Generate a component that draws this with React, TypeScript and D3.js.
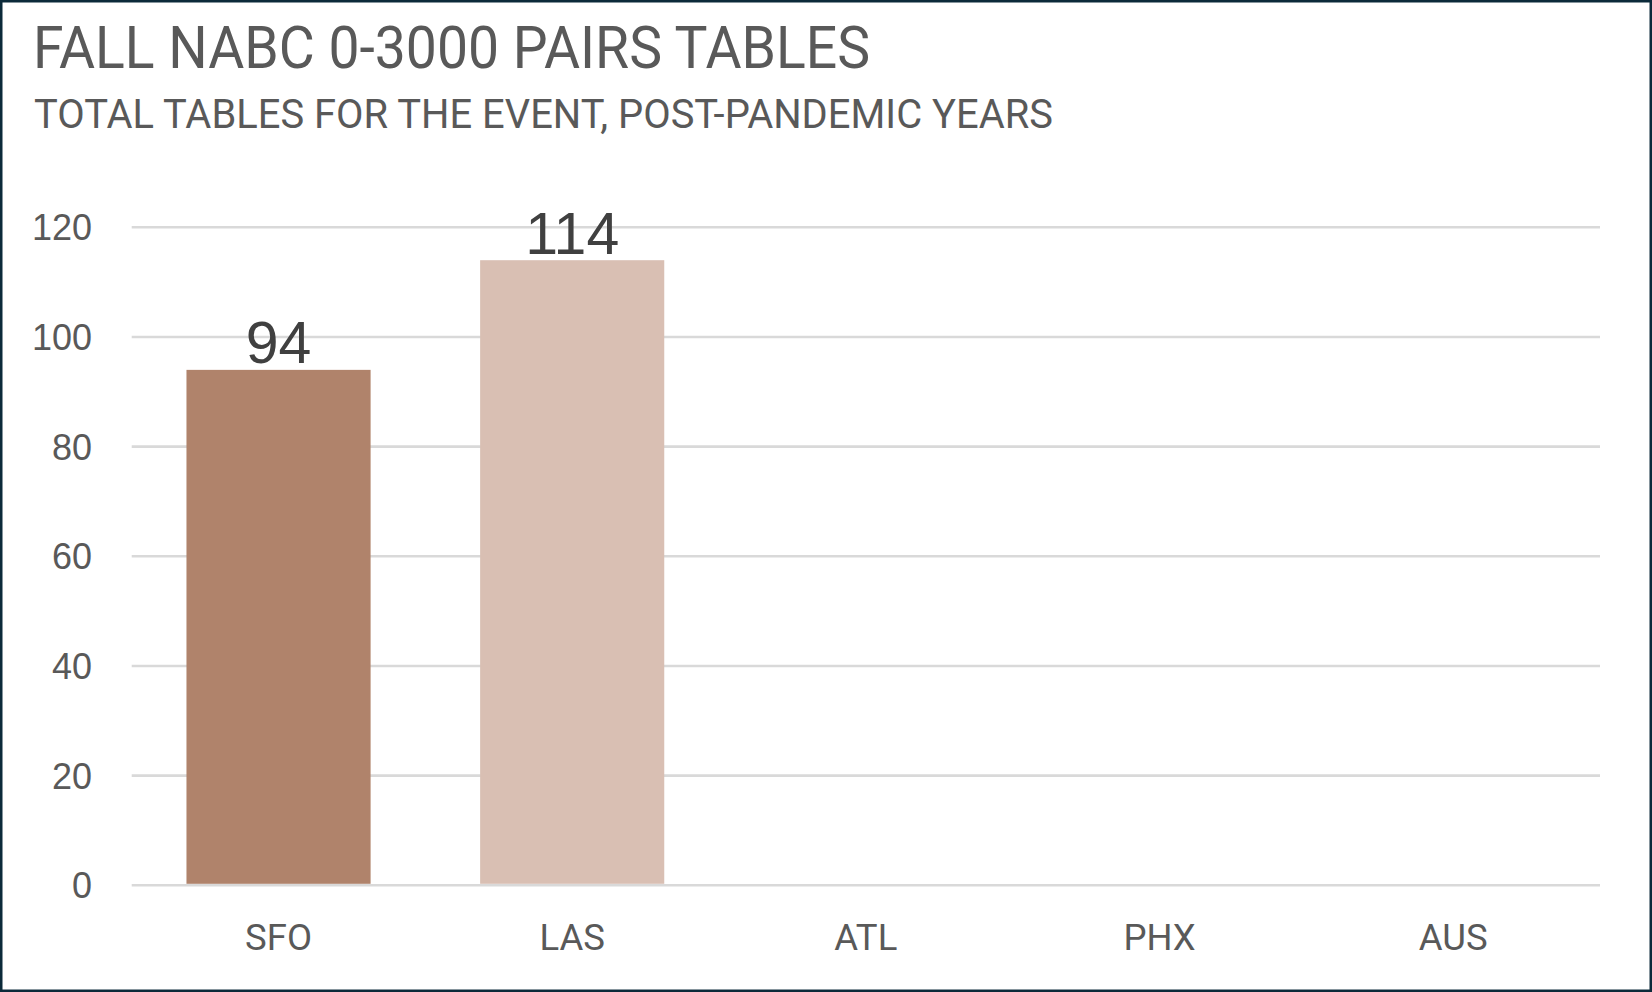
import React from 'react';
import * as d3 from 'd3';

const categories = ['SFO', 'LAS', 'ATL', 'PHX', 'AUS'];
const tables: (number | null)[] = [94, 114, null, null, null];
const barColors = ['#B0836B', '#D9BFB3'];
const yTicks = [0, 20, 40, 60, 80, 100, 120];

const title = 'FALL NABC 0-3000 PAIRS TABLES';
const subtitle = 'TOTAL TABLES FOR THE EVENT, POST-PANDEMIC YEARS';

const W = 1652;
const H = 992;
const margin = { top: 227.3, right: 52, bottom: 106.7, left: 131.7 };
const font = 'Roboto, "Liberation Sans", sans-serif';
const numFont = '"Liberation Sans", Arial, sans-serif';

export default function App() {
  const x = d3.scaleBand<string>()
    .domain(categories)
    .range([margin.left, W - margin.right])
    .paddingInner(0.373)
    .paddingOuter(0.1865);

  const y = d3.scaleLinear()
    .domain([0, 120])
    .range([H - margin.bottom, margin.top]);

  return (
    <div style={{ position: 'fixed', left: 0, top: 0 }}>
      <svg width={W} height={H} style={{ display: 'block', background: '#fff' }}>
        {/* frame */}
        <rect x={1.25} y={1.25} width={W - 2.5} height={H - 2.5}
          fill="#fff" stroke="#0C2A3A" strokeWidth={2.5} />

        {/* titles */}
        <text x={33} y={68.3} fontFamily={font} fontSize={59.5} fill="#595959"
          textLength={837} lengthAdjust="spacingAndGlyphs">{title}</text>
        <text x={34} y={128.3} fontFamily={font} fontSize={40.8} fill="#595959"
          textLength={1019} lengthAdjust="spacingAndGlyphs">{subtitle}</text>

        {/* gridlines + y labels */}
        {yTicks.map(t => (
          <g key={t}>
            <line x1={margin.left} x2={W - margin.right} y1={y(t)} y2={y(t)}
              stroke="#D9D9D9" strokeWidth={2.6} />
            <text x={92} y={y(t)} dy="0.36em" textAnchor="end"
              fontFamily={numFont} fontSize={36} fill="#595959">{t}</text>
          </g>
        ))}

        {/* bars */}
        {categories.map((c, i) => {
          const v = tables[i];
          if (v == null) return null;
          const bx = x(c) as number;
          return (
            <g key={c}>
              <rect x={bx} y={y(v)} width={x.bandwidth()} height={y(0) - y(v) - 1.5}
                fill={barColors[i % barColors.length]} />
              <text x={bx + x.bandwidth() / 2} y={y(v) - 6.5} textAnchor="middle"
                fontFamily={numFont} fontSize={59} fill="#404040">{v}</text>
            </g>
          );
        })}

        {/* category labels */}
        {categories.map(c => (
          <text key={c} x={(x(c) as number) + x.bandwidth() / 2} y={950}
            textAnchor="middle" fontFamily={font} fontSize={36.5} fill="#595959">{c}</text>
        ))}
      </svg>
    </div>
  );
}
